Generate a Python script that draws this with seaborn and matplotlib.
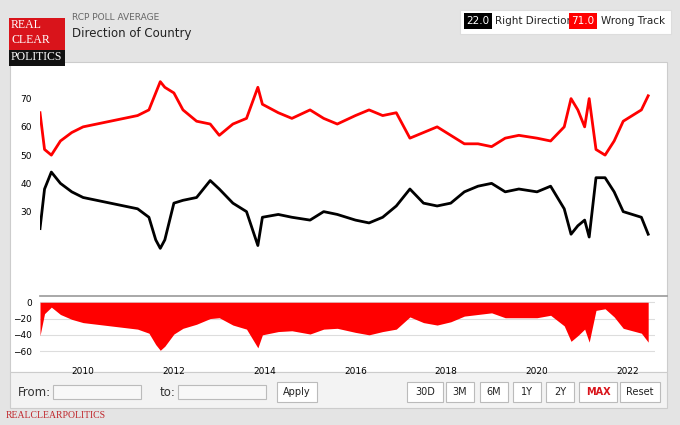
import numpy as np
import pandas as pd
import matplotlib.pyplot as plt
import seaborn as sns
from matplotlib.patches import Rectangle

# data
years = [2009.05, 2009.15, 2009.3, 2009.5, 2009.75, 2010.0, 2010.3, 2010.6, 2010.9, 2011.2,
         2011.45, 2011.6, 2011.7, 2011.8, 2012.0, 2012.2, 2012.5, 2012.8, 2013.0, 2013.3,
         2013.6, 2013.85, 2013.95, 2014.3, 2014.6, 2015.0, 2015.3, 2015.6, 2016.0, 2016.3,
         2016.6, 2016.9, 2017.2, 2017.5, 2017.8, 2018.1, 2018.4, 2018.7, 2019.0, 2019.3,
         2019.6, 2020.0, 2020.3, 2020.6, 2020.75, 2020.9, 2021.05, 2021.15, 2021.3, 2021.5,
         2021.7, 2021.9, 2022.1, 2022.3, 2022.45]
wrong_track = [65, 52, 50, 55, 58, 60, 61, 62, 63, 64, 66, 72, 76, 74, 72, 66, 62, 61, 57, 61,
               63, 74, 68, 65, 63, 66, 63, 61, 64, 66, 64, 65, 56, 58, 60, 57, 54, 54, 53, 56,
               57, 56, 55, 60, 70, 66, 60, 70, 52, 50, 55, 62, 64, 66, 71]
right_direction = [24, 38, 44, 40, 37, 35, 34, 33, 32, 31, 28, 20, 17, 20, 33, 34, 35, 41, 38, 33,
                   30, 18, 28, 29, 28, 27, 30, 29, 27, 26, 28, 32, 38, 33, 32, 33, 37, 39, 40, 37,
                   38, 37, 39, 31, 22, 25, 27, 21, 42, 42, 37, 30, 29, 28, 22]
xticks = [2010, 2012, 2014, 2016, 2018, 2020, 2022]

df = pd.DataFrame({"year": years, "wrong": wrong_track, "right": right_direction})
df["spread"] = df["right"] - df["wrong"]

W, H = 680, 425
fig = plt.figure(figsize=(6.8, 4.25), dpi=100, facecolor="#e4e4e4")

def box(x0, y0, x1, y1):
    # pixel coords (top-left origin) -> figure fraction
    return [x0 / W, 1 - y1 / H, (x1 - x0) / W, (y1 - y0) / H]

def rect(x0, y0, w, h, **kw):
    kw.setdefault("zorder", -5)
    fig.patches.append(Rectangle((x0 / W, 1 - (y0 + h) / H), w / W, h / H,
                                 transform=fig.transFigure, **kw))

# panels
rect(10, 62, 657, 310, facecolor="white", edgecolor="#cccccc", lw=0.8)
rect(10, 372, 657, 36, facecolor="#f3f3f3", edgecolor="#cccccc", lw=0.8)

# header
rect(9, 18, 56, 48, facecolor="#d9141b", edgecolor="none")
rect(9, 50, 56, 16, facecolor="#111111", edgecolor="none", zorder=-4)
for txt, yy in [("REAL", 25), ("CLEAR", 40), ("POLITICS", 57)]:
    fig.text(11 / W, 1 - yy / H, txt, color="white", fontsize=8.5, family="Liberation Serif", va="center")
fig.text(72 / W, 1 - 18 / H, "RCP POLL AVERAGE", fontsize=6.5, color="#666666", va="center")
fig.text(72 / W, 1 - 34 / H, "Direction of Country", fontsize=8.5, color="#222222", va="center")
rect(460, 10, 211, 24, facecolor="white", edgecolor="#dddddd", lw=0.8)
fig.text(478 / W, 1 - 21 / H, "22.0", fontsize=7.5, color="white", ha="center", va="center",
         bbox=dict(boxstyle="square,pad=0.25", fc="black", ec="none"))
fig.text(495 / W, 1 - 21 / H, "Right Direction", fontsize=7.5, color="#222222", va="center")
fig.text(583 / W, 1 - 21 / H, "71.0", fontsize=7.5, color="white", ha="center", va="center",
         bbox=dict(boxstyle="square,pad=0.25", fc="red", ec="none"))
fig.text(601 / W, 1 - 21 / H, "Wrong Track", fontsize=7.5, color="#222222", va="center")

xlim = (2009.05, 2022.6)

# main chart
ax = fig.add_axes(box(40, 76, 655, 254))
ax.patch.set_alpha(0)
sns.lineplot(data=df, x="year", y="wrong", ax=ax, color="red", lw=2)
sns.lineplot(data=df, x="year", y="right", ax=ax, color="black", lw=2)
ax.set_xlim(*xlim)
ax.set_ylim(15, 78)
ax.set_yticks([30, 40, 50, 60, 70])
ax.set_xticks([])
ax.set_xlabel("")
ax.set_ylabel("")
ax.tick_params(axis="y", length=0, labelsize=6.5, pad=6)
for s in ax.spines.values():
    s.set_visible(False)

# separator line
fig.lines.append(plt.Line2D([40 / W, 667 / W], [1 - 296 / H] * 2, transform=fig.transFigure,
                            color="#999999", lw=1.2))

# spread chart
ax2 = fig.add_axes(box(40, 299, 655, 356))
ax2.patch.set_alpha(0)
ax2.fill_between(df["year"], df["spread"], 0, color="red", lw=0)
ax2.set_xlim(*xlim)
ax2.set_ylim(-66, 4)
ax2.set_yticks([0, -20, -40, -60])
ax2.set_xticks(xticks)
ax2.grid(axis="y", color="#dddddd", lw=0.8)
ax2.set_axisbelow(True)
ax2.tick_params(axis="y", length=0, labelsize=6.5, pad=6)
ax2.tick_params(axis="x", length=0, labelsize=6.5, pad=8)
for s in ax2.spines.values():
    s.set_visible(False)

# controls
fig.text(18 / W, 1 - 392 / H, "From:", fontsize=8.5, va="center", color="#333333")
rect(53, 385, 88, 14, facecolor="#f8f8f8", edgecolor="#bbbbbb", lw=0.8, zorder=-3)
fig.text(160 / W, 1 - 392 / H, "to:", fontsize=8.5, va="center", color="#333333")
rect(178, 385, 88, 14, facecolor="#f8f8f8", edgecolor="#bbbbbb", lw=0.8, zorder=-3)
buttons = [("Apply", 297, 40), ("30D", 425, 36), ("3M", 460, 28), ("6M", 494, 28), ("1Y", 527, 28),
           ("2Y", 560, 28), ("MAX", 598, 38), ("Reset", 640, 40)]
for label, cx, bw in buttons:
    rect(cx - bw / 2, 382, bw, 20, facecolor="white", edgecolor="#bbbbbb", lw=0.8, zorder=-3)
    fig.text(cx / W, 1 - 392 / H, label, fontsize=7, ha="center", va="center",
             color="#d9141b" if label == "MAX" else "#222222",
             weight="bold" if label == "MAX" else "normal")
fig.text(6 / W, 1 - 416 / H, "REALCLEARPOLITICS", fontsize=7, color="#c0282d",
         family="Liberation Serif", va="center")

fig.savefig("out.png", dpi=100, facecolor=fig.get_facecolor())
